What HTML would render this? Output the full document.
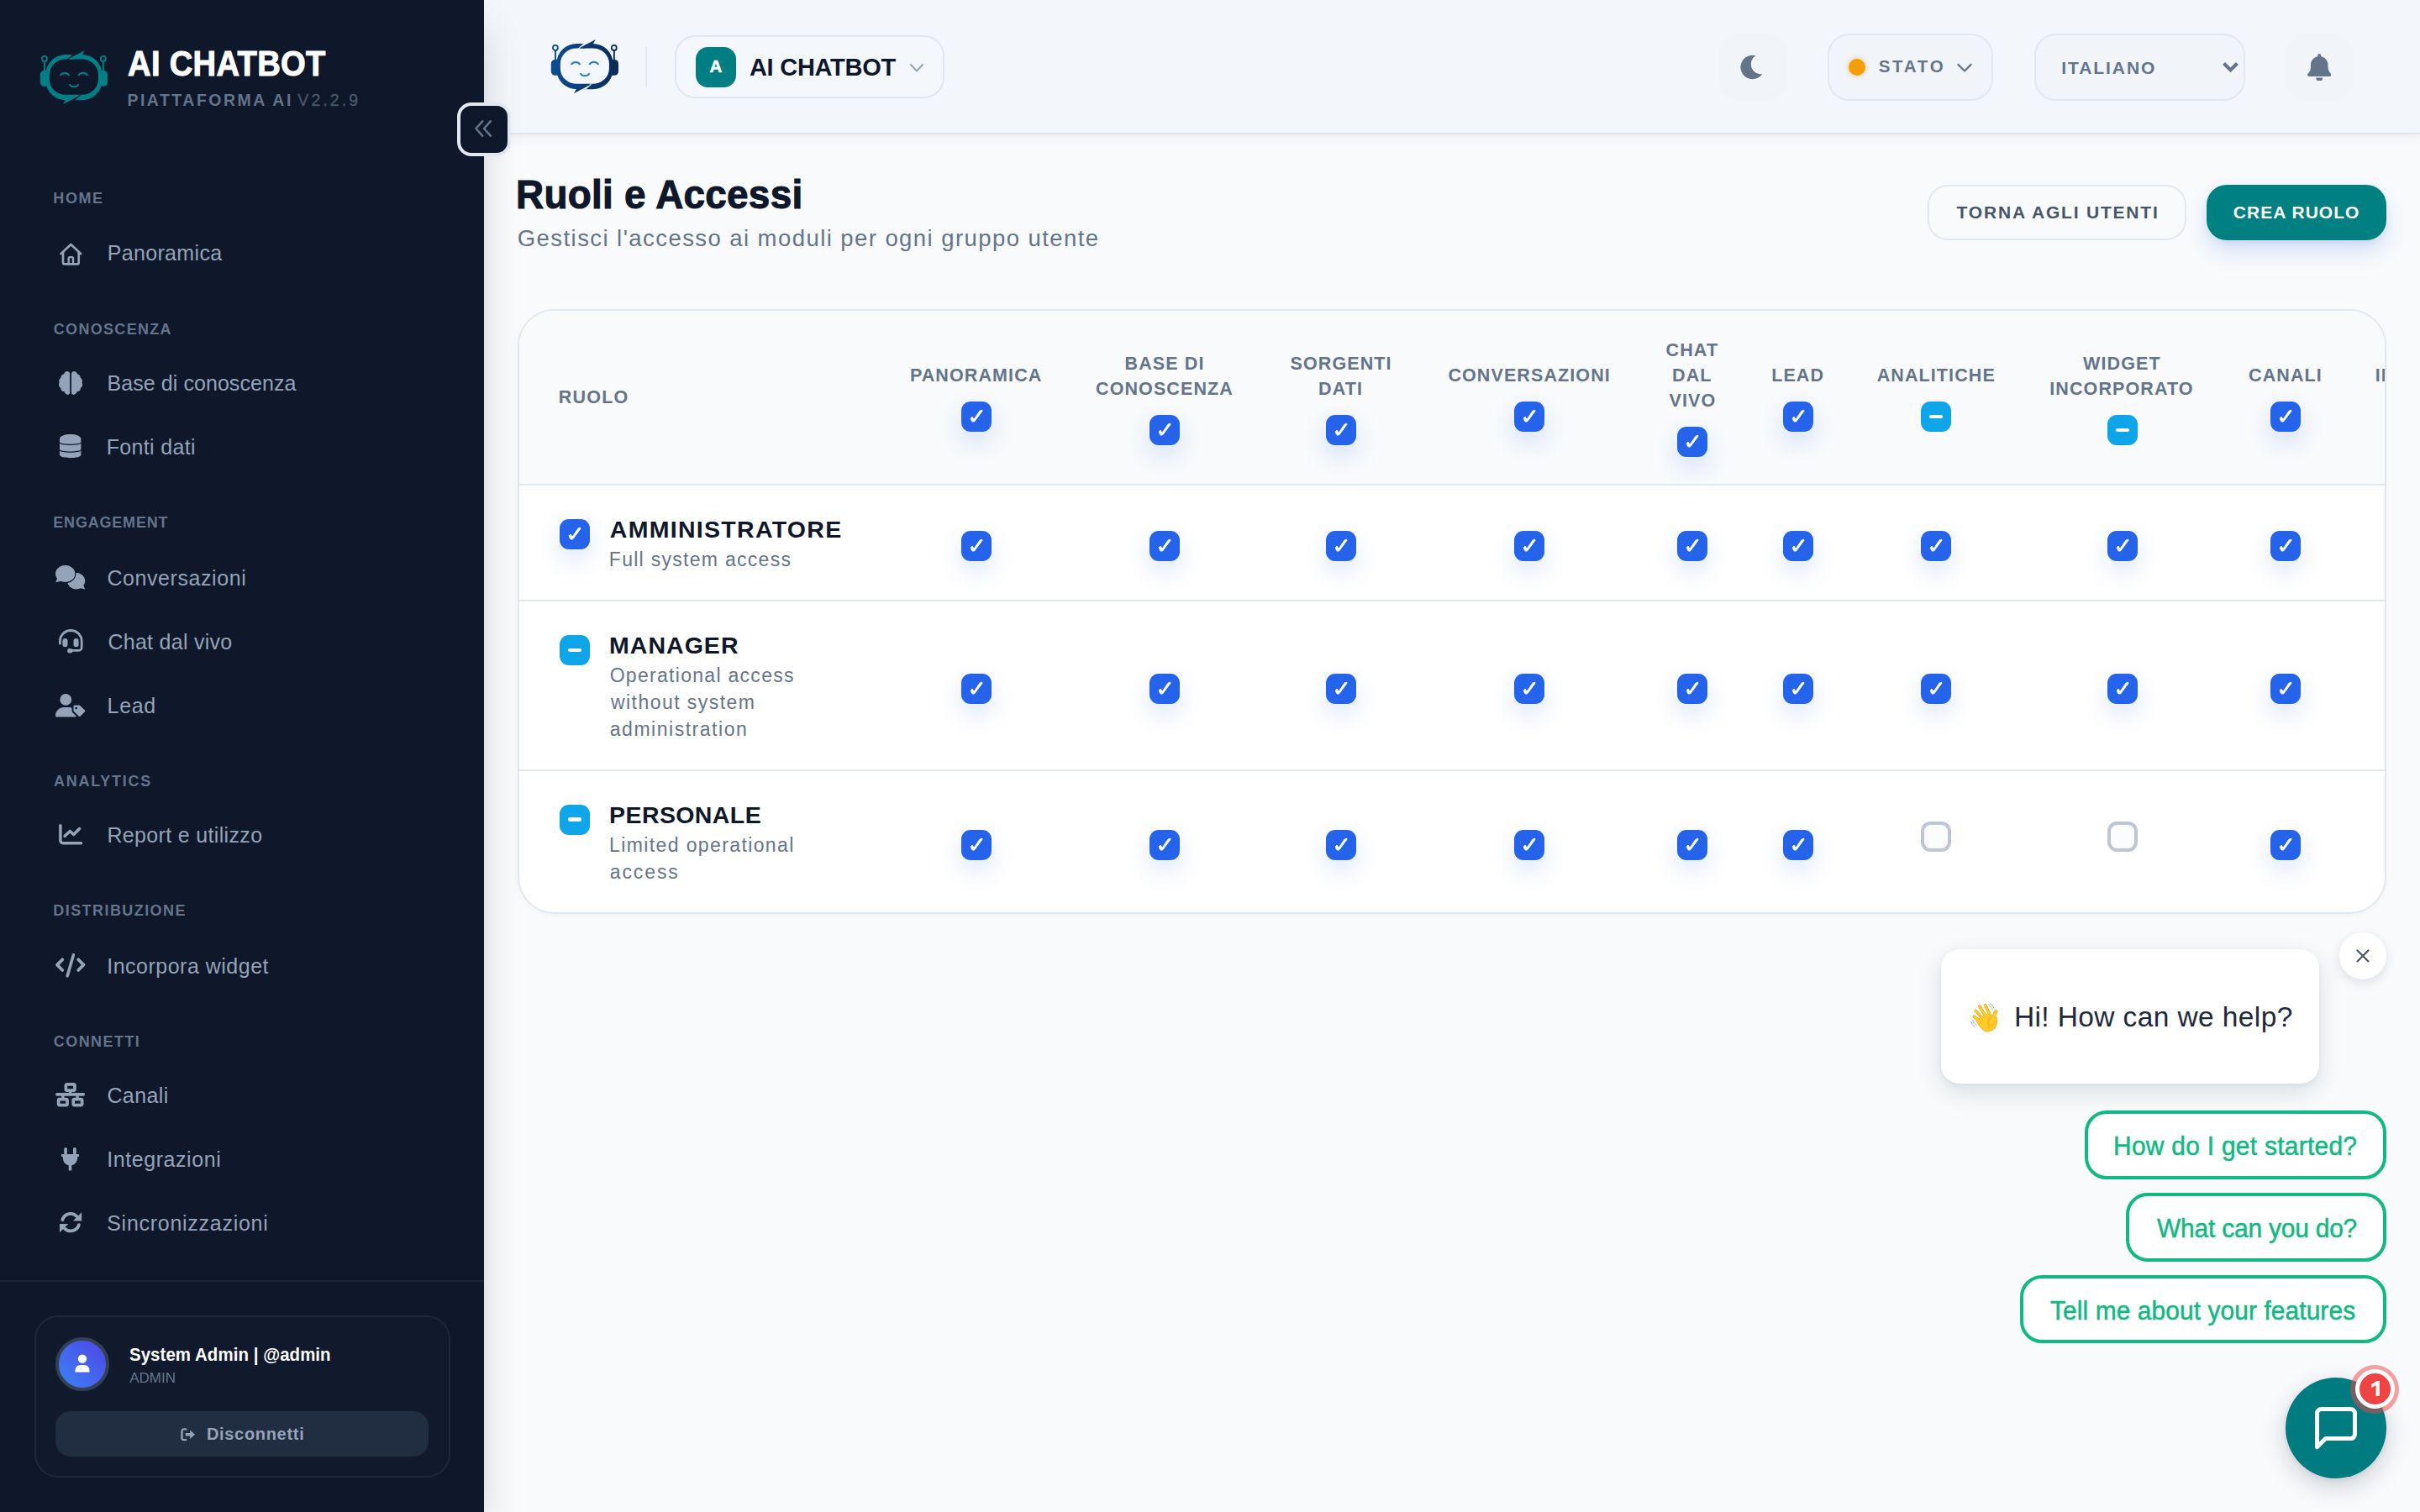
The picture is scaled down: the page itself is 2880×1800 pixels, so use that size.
<!DOCTYPE html>
<html lang="it"><head><meta charset="utf-8"><title>Ruoli e Accessi</title>
<style>
html,body{margin:0;padding:0}
body{width:2880px;height:1800px;overflow:hidden;position:relative;background:#f8fafc;font-family:"Liberation Sans",sans-serif;}
.t{position:absolute;white-space:nowrap;line-height:1;font-family:"Liberation Sans",sans-serif;}
.b{position:absolute;box-sizing:border-box;}
</style></head><body>
<div class="b" style="left:576px;top:0px;width:2304px;height:160px;background:#f3f6fb;border-bottom:2px solid #dfe5ee;box-shadow:0 5px 12px rgba(15,23,42,.05);"></div>
<svg class="b" style="left:656px;top:46.5px;overflow:visible;" width="80" height="64" viewBox="0 0 80 64" preserveAspectRatio="none"><defs><linearGradient id="lgB" gradientUnits="userSpaceOnUse" x1="0" y1="0" x2="80" y2="0"><stop offset="0" stop-color="#0b4f93"/><stop offset="1" stop-color="#0a2a58"/></linearGradient></defs>
<path fill="url(#lgB)" fill-rule="evenodd" d="M30.4 5 H49.4 A24 23 0 0 1 73.4 28 V36.2 A24 23 0 0 1 49.4 59.2 H30.4 A24 23 0 0 1 6.4 36.2 V28 A24 23 0 0 1 30.4 5 Z M30.4 10.4 A19.5 18 0 0 0 10.9 28.4 V34.8 A19.5 18 0 0 0 30.4 52.8 H49.4 A19.5 18 0 0 0 68.9 34.8 V28.4 A19.5 18 0 0 0 49.4 10.4 Z"/>
<g id="lgBh"><path d="M31.2 11.2 L38.9 4.4 L44 4.4 L33.4 10.9 Z" fill="#f3f6fb"/><path d="M42.4 5.6 L52.8 0 L49.8 5.2 L50 6 Z" fill="url(#lgB)"/><path d="M33.1 10.45 L43.3 5.1 L46 8 L40 10.45 Z" fill="url(#lgB)"/></g>
<use href="#lgBh" transform="rotate(180 39.9 32.1)"/>
<g fill="url(#lgB)"><path d="M7.5 23.9 H4.6 A4.8 4.8 0 0 0 -0.2 28.7 V38 A4.8 4.8 0 0 0 4.6 42.8 H8.5 Z"/><path d="M72.3 23.9 H75.2 A4.8 4.8 0 0 1 80 28.7 V38 A4.8 4.8 0 0 1 75.2 42.8 H71.3 Z"/>
<rect x="4" y="12.6" width="1.9" height="12"/><rect x="73.9" y="12.6" width="1.9" height="12"/></g>
<g fill="none" stroke="url(#lgB)" stroke-width="1.8"><circle cx="4.9" cy="9.9" r="3"/><circle cx="74.8" cy="9.9" r="3"/></g>
<g fill="none" stroke="#2a7ec6" stroke-width="2" stroke-linecap="butt"><path d="M23.7 30 A6.4 6.4 0 0 1 34.5 30"/><path d="M45.3 30 A6.4 6.4 0 0 1 56.3 30"/><path d="M34.5 40.2 A6.6 6.6 0 0 0 45.7 40.2"/></g></svg>
<div class="b" style="left:768px;top:56px;width:2px;height:48px;background:#e2e8f0;"></div>
<div class="b" style="left:802.7px;top:42.3px;width:321.4px;height:75px;border:2px solid #dfe6ef;border-radius:24.5px;background:#f4f7fb;"></div>
<div class="b" style="left:828px;top:56px;width:48px;height:48px;border-radius:14.5px;background:#007e81;"></div>
<div class="t" style="left:844.6px;top:68.6px;font-size:20.5px;letter-spacing:0.00px;color:#fff;font-weight:700;-webkit-text-stroke:0.6px #fff;">A</div>
<div class="t" style="left:891.9px;top:65.5px;font-size:29px;letter-spacing:-0.25px;color:#0f172a;font-weight:700;">AI CHATBOT</div>
<svg class="b" style="left:1082px;top:74px;" width="18" height="14" viewBox="0 0 18 14" preserveAspectRatio="none"><path d="M2 3 L9 10.5 L16 3" fill="none" stroke="#94a3b8" stroke-width="2.1" stroke-linecap="round" stroke-linejoin="round"/></svg>
<div class="b" style="left:2046px;top:40px;width:80px;height:80px;border-radius:24px;background:#f1f4f9;"></div>
<svg class="b" style="left:2071.9px;top:65.8px;overflow:visible;" width="25.4" height="28.4" viewBox="0 0 25.4 28.4" preserveAspectRatio="none"><path d="M17.3 0.3 A14.2 14.2 0 1 0 25.2 22.2 A11.9 11.9 0 0 1 17.3 0.3 Z" fill="#64748b"/></svg>
<div class="b" style="left:2174.5px;top:40px;width:197px;height:80px;border:2px solid #e2e8f0;border-radius:26px;background:#f1f4f9;"></div>
<div class="b" style="left:2200px;top:70px;width:20px;height:20px;border-radius:50%;background:#f59e0b;box-shadow:0 0 6px rgba(245,158,11,.55);"></div>
<div class="t" style="left:2235.7px;top:68.8px;font-size:20.5px;letter-spacing:2.72px;color:#64748b;font-weight:700;">STATO</div>
<svg class="b" style="left:2328px;top:73.5px;" width="20" height="14" viewBox="0 0 20 14" preserveAspectRatio="none"><path d="M2.5 3 L10 10.5 L17.5 3" fill="none" stroke="#64748b" stroke-width="2.4" stroke-linecap="round" stroke-linejoin="round"/></svg>
<div class="b" style="left:2420.7px;top:40px;width:251px;height:80px;border:2px solid #e2e8f0;border-radius:26px;background:#f1f4f9;"></div>
<div class="t" style="left:2453.2px;top:70.0px;font-size:21px;letter-spacing:1.94px;color:#64748b;font-weight:700;">ITALIANO</div>
<svg class="b" style="left:2644px;top:72px;" width="21" height="16" viewBox="0 0 21 16" preserveAspectRatio="none"><path d="M2.6 3.6 L10.5 11.4 L18.4 3.6" fill="none" stroke="#64748b" stroke-width="4.2" stroke-linecap="butt" stroke-linejoin="miter"/></svg>
<div class="b" style="left:2720px;top:40px;width:80px;height:80px;border-radius:24px;background:#f1f4f9;"></div>
<svg class="b" style="left:2745.8px;top:63.8px;" width="28.5" height="32.4" viewBox="0 0 30 33" preserveAspectRatio="none"><path d="M15 0 a2.2 2.2 0 0 1 2.2 2.2 v1.2 c5 1 8.6 5.2 8.6 10.4 v2 c0 3 1.1 5.8 3 7.8 l0.6 0.6 c0.6 0.6 0.7 1.4 0.4 2.1 c-0.3 0.7 -1 1.2 -1.8 1.2 H2 c-0.8 0 -1.5 -0.5 -1.8 -1.2 c-0.3 -0.7 -0.2 -1.5 0.4 -2.1 l0.6 -0.6 c1.9 -2 3 -4.8 3 -7.8 v-2 c0 -5.2 3.6 -9.4 8.6 -10.4 V2.2 A2.2 2.2 0 0 1 15 0z M19.2 29 a4.2 4.2 0 0 1 -8.4 0z" fill="#64748b"/></svg>
<div class="t" style="left:614.2px;top:207.8px;font-size:48px;letter-spacing:0.30px;color:#0f172a;font-weight:700;-webkit-text-stroke:1.1px #0f172a;transform:scaleX(0.955);transform-origin:0 0;">Ruoli e Accessi</div>
<div class="t" style="left:615.8px;top:269.9px;font-size:27.5px;letter-spacing:1.43px;color:#64748b;">Gestisci l'accesso ai moduli per ogni gruppo utente</div>
<div class="b" style="left:2294.4px;top:220.2px;width:307.4px;height:65.6px;border:2px solid #e2e8f0;border-radius:24px;background:#f8fafc;"></div>
<div class="t" style="left:2328.6px;top:242.4px;font-size:21px;letter-spacing:1.80px;color:#475569;font-weight:700;">TORNA AGLI UTENTI</div>
<div class="b" style="left:2626px;top:220px;width:214.2px;height:65.6px;border-radius:24px;background:#008080;box-shadow:0 14px 26px rgba(37,99,235,.16),0 4px 8px rgba(15,23,42,.06);"></div>
<div class="t" style="left:2657.8px;top:242.4px;font-size:21px;letter-spacing:1.02px;color:#fff;font-weight:700;">CREA RUOLO</div>
<div class="b" style="left:616px;top:368px;width:2224px;height:720px;border:2px solid #e2e8f0;border-radius:44px;background:#fff;overflow:hidden;box-shadow:0 2px 6px rgba(15,23,42,.03);">
<div class="b" style="left:0;top:0;width:2300px;height:208px;background:#f8fafc;border-bottom:2px solid #e2e8f0;"></div>
<div class="b" style="left:0;top:344px;width:2300px;height:2px;background:#e2e8f0;"></div>
<div class="b" style="left:0;top:546px;width:2300px;height:2px;background:#e2e8f0;"></div>
</div>
<div class="t" style="left:664.7px;top:463.3px;font-size:21.5px;letter-spacing:1.23px;color:#64748b;font-weight:700;">RUOLO</div>
<div class="t" style="left:1082.9px;top:436.8px;font-size:21.5px;letter-spacing:1.10px;color:#64748b;font-weight:700;">PANORAMICA</div>
<div class="t" style="left:1338.6px;top:423.4px;font-size:21.5px;letter-spacing:1.10px;color:#64748b;font-weight:700;">BASE DI</div>
<div class="t" style="left:1304.0px;top:453.4px;font-size:21.5px;letter-spacing:1.10px;color:#64748b;font-weight:700;">CONOSCENZA</div>
<div class="t" style="left:1535.5px;top:423.4px;font-size:21.5px;letter-spacing:1.10px;color:#64748b;font-weight:700;">SORGENTI</div>
<div class="t" style="left:1569.1px;top:453.4px;font-size:21.5px;letter-spacing:1.10px;color:#64748b;font-weight:700;">DATI</div>
<div class="t" style="left:1723.4px;top:436.8px;font-size:21.5px;letter-spacing:1.10px;color:#64748b;font-weight:700;">CONVERSAZIONI</div>
<div class="t" style="left:1982.6px;top:407.0px;font-size:21.5px;letter-spacing:1.10px;color:#64748b;font-weight:700;">CHAT</div>
<div class="t" style="left:1990.0px;top:437.0px;font-size:21.5px;letter-spacing:1.10px;color:#64748b;font-weight:700;">DAL</div>
<div class="t" style="left:1986.6px;top:467.0px;font-size:21.5px;letter-spacing:1.10px;color:#64748b;font-weight:700;">VIVO</div>
<div class="t" style="left:2108.2px;top:436.8px;font-size:21.5px;letter-spacing:1.10px;color:#64748b;font-weight:700;">LEAD</div>
<div class="t" style="left:2233.7px;top:436.8px;font-size:21.5px;letter-spacing:1.10px;color:#64748b;font-weight:700;">ANALITICHE</div>
<div class="t" style="left:2479.1px;top:423.4px;font-size:21.5px;letter-spacing:1.10px;color:#64748b;font-weight:700;">WIDGET</div>
<div class="t" style="left:2439.3px;top:453.4px;font-size:21.5px;letter-spacing:1.10px;color:#64748b;font-weight:700;">INCORPORATO</div>
<div class="t" style="left:2676.0px;top:436.8px;font-size:21.5px;letter-spacing:1.10px;color:#64748b;font-weight:700;">CANALI</div>
<div class="b" style="left:2800px;top:420px;width:38px;height:60px;overflow:hidden;"><div class="t" style="left:26.7px;top:16.8px;font-size:21.5px;letter-spacing:1.10px;color:#64748b;font-weight:700;">INTEGRAZIONI</div>
</div>
<div class="b" style="left:1144.05px;top:477.9px;width:36px;height:36px;border-radius:11px;background:#2563eb;box-shadow:0 12px 28px rgba(37,99,235,.17);"><svg width="36" height="36" viewBox="0 0 36 36" style="position:absolute;left:0;top:0"><path d="M11.2 19.8 L13 18 L15.1 21.2 L21.9 11.2 L24.5 10 L25.1 11.2 L15.8 23.8 L13.8 24.2 L12.4 23.2 Z" fill="#fff" stroke="#fff" stroke-width="0.8" stroke-linejoin="round"/></svg></div>
<div class="b" style="left:1368.1px;top:494.2px;width:36px;height:36px;border-radius:11px;background:#2563eb;box-shadow:0 12px 28px rgba(37,99,235,.17);"><svg width="36" height="36" viewBox="0 0 36 36" style="position:absolute;left:0;top:0"><path d="M11.2 19.8 L13 18 L15.1 21.2 L21.9 11.2 L24.5 10 L25.1 11.2 L15.8 23.8 L13.8 24.2 L12.4 23.2 Z" fill="#fff" stroke="#fff" stroke-width="0.8" stroke-linejoin="round"/></svg></div>
<div class="b" style="left:1577.8px;top:494.2px;width:36px;height:36px;border-radius:11px;background:#2563eb;box-shadow:0 12px 28px rgba(37,99,235,.17);"><svg width="36" height="36" viewBox="0 0 36 36" style="position:absolute;left:0;top:0"><path d="M11.2 19.8 L13 18 L15.1 21.2 L21.9 11.2 L24.5 10 L25.1 11.2 L15.8 23.8 L13.8 24.2 L12.4 23.2 Z" fill="#fff" stroke="#fff" stroke-width="0.8" stroke-linejoin="round"/></svg></div>
<div class="b" style="left:1802px;top:477.9px;width:36px;height:36px;border-radius:11px;background:#2563eb;box-shadow:0 12px 28px rgba(37,99,235,.17);"><svg width="36" height="36" viewBox="0 0 36 36" style="position:absolute;left:0;top:0"><path d="M11.2 19.8 L13 18 L15.1 21.2 L21.9 11.2 L24.5 10 L25.1 11.2 L15.8 23.8 L13.8 24.2 L12.4 23.2 Z" fill="#fff" stroke="#fff" stroke-width="0.8" stroke-linejoin="round"/></svg></div>
<div class="b" style="left:1996.1px;top:508px;width:36px;height:36px;border-radius:11px;background:#2563eb;box-shadow:0 12px 28px rgba(37,99,235,.17);"><svg width="36" height="36" viewBox="0 0 36 36" style="position:absolute;left:0;top:0"><path d="M11.2 19.8 L13 18 L15.1 21.2 L21.9 11.2 L24.5 10 L25.1 11.2 L15.8 23.8 L13.8 24.2 L12.4 23.2 Z" fill="#fff" stroke="#fff" stroke-width="0.8" stroke-linejoin="round"/></svg></div>
<div class="b" style="left:2121.95px;top:477.9px;width:36px;height:36px;border-radius:11px;background:#2563eb;box-shadow:0 12px 28px rgba(37,99,235,.17);"><svg width="36" height="36" viewBox="0 0 36 36" style="position:absolute;left:0;top:0"><path d="M11.2 19.8 L13 18 L15.1 21.2 L21.9 11.2 L24.5 10 L25.1 11.2 L15.8 23.8 L13.8 24.2 L12.4 23.2 Z" fill="#fff" stroke="#fff" stroke-width="0.8" stroke-linejoin="round"/></svg></div>
<div class="b" style="left:2286.1px;top:477.9px;width:36px;height:36px;border-radius:11px;background:#0ea5e9;"><div style="position:absolute;left:10px;top:15.7px;width:16px;height:4.6px;border-radius:2.3px;background:#fff"></div></div>
<div class="b" style="left:2507.9px;top:494.2px;width:36px;height:36px;border-radius:11px;background:#0ea5e9;"><div style="position:absolute;left:10px;top:15.7px;width:16px;height:4.6px;border-radius:2.3px;background:#fff"></div></div>
<div class="b" style="left:2701.8px;top:477.9px;width:36px;height:36px;border-radius:11px;background:#2563eb;box-shadow:0 12px 28px rgba(37,99,235,.17);"><svg width="36" height="36" viewBox="0 0 36 36" style="position:absolute;left:0;top:0"><path d="M11.2 19.8 L13 18 L15.1 21.2 L21.9 11.2 L24.5 10 L25.1 11.2 L15.8 23.8 L13.8 24.2 L12.4 23.2 Z" fill="#fff" stroke="#fff" stroke-width="0.8" stroke-linejoin="round"/></svg></div>
<div class="b" style="left:1144.05px;top:631.9px;width:36px;height:36px;border-radius:11px;background:#2563eb;box-shadow:0 12px 28px rgba(37,99,235,.17);"><svg width="36" height="36" viewBox="0 0 36 36" style="position:absolute;left:0;top:0"><path d="M11.2 19.8 L13 18 L15.1 21.2 L21.9 11.2 L24.5 10 L25.1 11.2 L15.8 23.8 L13.8 24.2 L12.4 23.2 Z" fill="#fff" stroke="#fff" stroke-width="0.8" stroke-linejoin="round"/></svg></div>
<div class="b" style="left:1368.1px;top:631.9px;width:36px;height:36px;border-radius:11px;background:#2563eb;box-shadow:0 12px 28px rgba(37,99,235,.17);"><svg width="36" height="36" viewBox="0 0 36 36" style="position:absolute;left:0;top:0"><path d="M11.2 19.8 L13 18 L15.1 21.2 L21.9 11.2 L24.5 10 L25.1 11.2 L15.8 23.8 L13.8 24.2 L12.4 23.2 Z" fill="#fff" stroke="#fff" stroke-width="0.8" stroke-linejoin="round"/></svg></div>
<div class="b" style="left:1577.8px;top:631.9px;width:36px;height:36px;border-radius:11px;background:#2563eb;box-shadow:0 12px 28px rgba(37,99,235,.17);"><svg width="36" height="36" viewBox="0 0 36 36" style="position:absolute;left:0;top:0"><path d="M11.2 19.8 L13 18 L15.1 21.2 L21.9 11.2 L24.5 10 L25.1 11.2 L15.8 23.8 L13.8 24.2 L12.4 23.2 Z" fill="#fff" stroke="#fff" stroke-width="0.8" stroke-linejoin="round"/></svg></div>
<div class="b" style="left:1802px;top:631.9px;width:36px;height:36px;border-radius:11px;background:#2563eb;box-shadow:0 12px 28px rgba(37,99,235,.17);"><svg width="36" height="36" viewBox="0 0 36 36" style="position:absolute;left:0;top:0"><path d="M11.2 19.8 L13 18 L15.1 21.2 L21.9 11.2 L24.5 10 L25.1 11.2 L15.8 23.8 L13.8 24.2 L12.4 23.2 Z" fill="#fff" stroke="#fff" stroke-width="0.8" stroke-linejoin="round"/></svg></div>
<div class="b" style="left:1996.1px;top:631.9px;width:36px;height:36px;border-radius:11px;background:#2563eb;box-shadow:0 12px 28px rgba(37,99,235,.17);"><svg width="36" height="36" viewBox="0 0 36 36" style="position:absolute;left:0;top:0"><path d="M11.2 19.8 L13 18 L15.1 21.2 L21.9 11.2 L24.5 10 L25.1 11.2 L15.8 23.8 L13.8 24.2 L12.4 23.2 Z" fill="#fff" stroke="#fff" stroke-width="0.8" stroke-linejoin="round"/></svg></div>
<div class="b" style="left:2121.95px;top:631.9px;width:36px;height:36px;border-radius:11px;background:#2563eb;box-shadow:0 12px 28px rgba(37,99,235,.17);"><svg width="36" height="36" viewBox="0 0 36 36" style="position:absolute;left:0;top:0"><path d="M11.2 19.8 L13 18 L15.1 21.2 L21.9 11.2 L24.5 10 L25.1 11.2 L15.8 23.8 L13.8 24.2 L12.4 23.2 Z" fill="#fff" stroke="#fff" stroke-width="0.8" stroke-linejoin="round"/></svg></div>
<div class="b" style="left:2286.1px;top:631.9px;width:36px;height:36px;border-radius:11px;background:#2563eb;box-shadow:0 12px 28px rgba(37,99,235,.17);"><svg width="36" height="36" viewBox="0 0 36 36" style="position:absolute;left:0;top:0"><path d="M11.2 19.8 L13 18 L15.1 21.2 L21.9 11.2 L24.5 10 L25.1 11.2 L15.8 23.8 L13.8 24.2 L12.4 23.2 Z" fill="#fff" stroke="#fff" stroke-width="0.8" stroke-linejoin="round"/></svg></div>
<div class="b" style="left:2507.9px;top:631.9px;width:36px;height:36px;border-radius:11px;background:#2563eb;box-shadow:0 12px 28px rgba(37,99,235,.17);"><svg width="36" height="36" viewBox="0 0 36 36" style="position:absolute;left:0;top:0"><path d="M11.2 19.8 L13 18 L15.1 21.2 L21.9 11.2 L24.5 10 L25.1 11.2 L15.8 23.8 L13.8 24.2 L12.4 23.2 Z" fill="#fff" stroke="#fff" stroke-width="0.8" stroke-linejoin="round"/></svg></div>
<div class="b" style="left:2701.8px;top:631.9px;width:36px;height:36px;border-radius:11px;background:#2563eb;box-shadow:0 12px 28px rgba(37,99,235,.17);"><svg width="36" height="36" viewBox="0 0 36 36" style="position:absolute;left:0;top:0"><path d="M11.2 19.8 L13 18 L15.1 21.2 L21.9 11.2 L24.5 10 L25.1 11.2 L15.8 23.8 L13.8 24.2 L12.4 23.2 Z" fill="#fff" stroke="#fff" stroke-width="0.8" stroke-linejoin="round"/></svg></div>
<div class="b" style="left:1144.05px;top:802.1px;width:36px;height:36px;border-radius:11px;background:#2563eb;box-shadow:0 12px 28px rgba(37,99,235,.17);"><svg width="36" height="36" viewBox="0 0 36 36" style="position:absolute;left:0;top:0"><path d="M11.2 19.8 L13 18 L15.1 21.2 L21.9 11.2 L24.5 10 L25.1 11.2 L15.8 23.8 L13.8 24.2 L12.4 23.2 Z" fill="#fff" stroke="#fff" stroke-width="0.8" stroke-linejoin="round"/></svg></div>
<div class="b" style="left:1368.1px;top:802.1px;width:36px;height:36px;border-radius:11px;background:#2563eb;box-shadow:0 12px 28px rgba(37,99,235,.17);"><svg width="36" height="36" viewBox="0 0 36 36" style="position:absolute;left:0;top:0"><path d="M11.2 19.8 L13 18 L15.1 21.2 L21.9 11.2 L24.5 10 L25.1 11.2 L15.8 23.8 L13.8 24.2 L12.4 23.2 Z" fill="#fff" stroke="#fff" stroke-width="0.8" stroke-linejoin="round"/></svg></div>
<div class="b" style="left:1577.8px;top:802.1px;width:36px;height:36px;border-radius:11px;background:#2563eb;box-shadow:0 12px 28px rgba(37,99,235,.17);"><svg width="36" height="36" viewBox="0 0 36 36" style="position:absolute;left:0;top:0"><path d="M11.2 19.8 L13 18 L15.1 21.2 L21.9 11.2 L24.5 10 L25.1 11.2 L15.8 23.8 L13.8 24.2 L12.4 23.2 Z" fill="#fff" stroke="#fff" stroke-width="0.8" stroke-linejoin="round"/></svg></div>
<div class="b" style="left:1802px;top:802.1px;width:36px;height:36px;border-radius:11px;background:#2563eb;box-shadow:0 12px 28px rgba(37,99,235,.17);"><svg width="36" height="36" viewBox="0 0 36 36" style="position:absolute;left:0;top:0"><path d="M11.2 19.8 L13 18 L15.1 21.2 L21.9 11.2 L24.5 10 L25.1 11.2 L15.8 23.8 L13.8 24.2 L12.4 23.2 Z" fill="#fff" stroke="#fff" stroke-width="0.8" stroke-linejoin="round"/></svg></div>
<div class="b" style="left:1996.1px;top:802.1px;width:36px;height:36px;border-radius:11px;background:#2563eb;box-shadow:0 12px 28px rgba(37,99,235,.17);"><svg width="36" height="36" viewBox="0 0 36 36" style="position:absolute;left:0;top:0"><path d="M11.2 19.8 L13 18 L15.1 21.2 L21.9 11.2 L24.5 10 L25.1 11.2 L15.8 23.8 L13.8 24.2 L12.4 23.2 Z" fill="#fff" stroke="#fff" stroke-width="0.8" stroke-linejoin="round"/></svg></div>
<div class="b" style="left:2121.95px;top:802.1px;width:36px;height:36px;border-radius:11px;background:#2563eb;box-shadow:0 12px 28px rgba(37,99,235,.17);"><svg width="36" height="36" viewBox="0 0 36 36" style="position:absolute;left:0;top:0"><path d="M11.2 19.8 L13 18 L15.1 21.2 L21.9 11.2 L24.5 10 L25.1 11.2 L15.8 23.8 L13.8 24.2 L12.4 23.2 Z" fill="#fff" stroke="#fff" stroke-width="0.8" stroke-linejoin="round"/></svg></div>
<div class="b" style="left:2286.1px;top:802.1px;width:36px;height:36px;border-radius:11px;background:#2563eb;box-shadow:0 12px 28px rgba(37,99,235,.17);"><svg width="36" height="36" viewBox="0 0 36 36" style="position:absolute;left:0;top:0"><path d="M11.2 19.8 L13 18 L15.1 21.2 L21.9 11.2 L24.5 10 L25.1 11.2 L15.8 23.8 L13.8 24.2 L12.4 23.2 Z" fill="#fff" stroke="#fff" stroke-width="0.8" stroke-linejoin="round"/></svg></div>
<div class="b" style="left:2507.9px;top:802.1px;width:36px;height:36px;border-radius:11px;background:#2563eb;box-shadow:0 12px 28px rgba(37,99,235,.17);"><svg width="36" height="36" viewBox="0 0 36 36" style="position:absolute;left:0;top:0"><path d="M11.2 19.8 L13 18 L15.1 21.2 L21.9 11.2 L24.5 10 L25.1 11.2 L15.8 23.8 L13.8 24.2 L12.4 23.2 Z" fill="#fff" stroke="#fff" stroke-width="0.8" stroke-linejoin="round"/></svg></div>
<div class="b" style="left:2701.8px;top:802.1px;width:36px;height:36px;border-radius:11px;background:#2563eb;box-shadow:0 12px 28px rgba(37,99,235,.17);"><svg width="36" height="36" viewBox="0 0 36 36" style="position:absolute;left:0;top:0"><path d="M11.2 19.8 L13 18 L15.1 21.2 L21.9 11.2 L24.5 10 L25.1 11.2 L15.8 23.8 L13.8 24.2 L12.4 23.2 Z" fill="#fff" stroke="#fff" stroke-width="0.8" stroke-linejoin="round"/></svg></div>
<div class="b" style="left:1144.05px;top:988.1px;width:36px;height:36px;border-radius:11px;background:#2563eb;box-shadow:0 12px 28px rgba(37,99,235,.17);"><svg width="36" height="36" viewBox="0 0 36 36" style="position:absolute;left:0;top:0"><path d="M11.2 19.8 L13 18 L15.1 21.2 L21.9 11.2 L24.5 10 L25.1 11.2 L15.8 23.8 L13.8 24.2 L12.4 23.2 Z" fill="#fff" stroke="#fff" stroke-width="0.8" stroke-linejoin="round"/></svg></div>
<div class="b" style="left:1368.1px;top:988.1px;width:36px;height:36px;border-radius:11px;background:#2563eb;box-shadow:0 12px 28px rgba(37,99,235,.17);"><svg width="36" height="36" viewBox="0 0 36 36" style="position:absolute;left:0;top:0"><path d="M11.2 19.8 L13 18 L15.1 21.2 L21.9 11.2 L24.5 10 L25.1 11.2 L15.8 23.8 L13.8 24.2 L12.4 23.2 Z" fill="#fff" stroke="#fff" stroke-width="0.8" stroke-linejoin="round"/></svg></div>
<div class="b" style="left:1577.8px;top:988.1px;width:36px;height:36px;border-radius:11px;background:#2563eb;box-shadow:0 12px 28px rgba(37,99,235,.17);"><svg width="36" height="36" viewBox="0 0 36 36" style="position:absolute;left:0;top:0"><path d="M11.2 19.8 L13 18 L15.1 21.2 L21.9 11.2 L24.5 10 L25.1 11.2 L15.8 23.8 L13.8 24.2 L12.4 23.2 Z" fill="#fff" stroke="#fff" stroke-width="0.8" stroke-linejoin="round"/></svg></div>
<div class="b" style="left:1802px;top:988.1px;width:36px;height:36px;border-radius:11px;background:#2563eb;box-shadow:0 12px 28px rgba(37,99,235,.17);"><svg width="36" height="36" viewBox="0 0 36 36" style="position:absolute;left:0;top:0"><path d="M11.2 19.8 L13 18 L15.1 21.2 L21.9 11.2 L24.5 10 L25.1 11.2 L15.8 23.8 L13.8 24.2 L12.4 23.2 Z" fill="#fff" stroke="#fff" stroke-width="0.8" stroke-linejoin="round"/></svg></div>
<div class="b" style="left:1996.1px;top:988.1px;width:36px;height:36px;border-radius:11px;background:#2563eb;box-shadow:0 12px 28px rgba(37,99,235,.17);"><svg width="36" height="36" viewBox="0 0 36 36" style="position:absolute;left:0;top:0"><path d="M11.2 19.8 L13 18 L15.1 21.2 L21.9 11.2 L24.5 10 L25.1 11.2 L15.8 23.8 L13.8 24.2 L12.4 23.2 Z" fill="#fff" stroke="#fff" stroke-width="0.8" stroke-linejoin="round"/></svg></div>
<div class="b" style="left:2121.95px;top:988.1px;width:36px;height:36px;border-radius:11px;background:#2563eb;box-shadow:0 12px 28px rgba(37,99,235,.17);"><svg width="36" height="36" viewBox="0 0 36 36" style="position:absolute;left:0;top:0"><path d="M11.2 19.8 L13 18 L15.1 21.2 L21.9 11.2 L24.5 10 L25.1 11.2 L15.8 23.8 L13.8 24.2 L12.4 23.2 Z" fill="#fff" stroke="#fff" stroke-width="0.8" stroke-linejoin="round"/></svg></div>
<div class="b" style="left:2285.9px;top:977.9px;width:36px;height:36px;border-radius:11.5px;background:#fbfcfe;border:4px solid #bcc6d4;"></div>
<div class="b" style="left:2507.7px;top:977.9px;width:36px;height:36px;border-radius:11.5px;background:#fbfcfe;border:4px solid #bcc6d4;"></div>
<div class="b" style="left:2701.8px;top:988.1px;width:36px;height:36px;border-radius:11px;background:#2563eb;box-shadow:0 12px 28px rgba(37,99,235,.17);"><svg width="36" height="36" viewBox="0 0 36 36" style="position:absolute;left:0;top:0"><path d="M11.2 19.8 L13 18 L15.1 21.2 L21.9 11.2 L24.5 10 L25.1 11.2 L15.8 23.8 L13.8 24.2 L12.4 23.2 Z" fill="#fff" stroke="#fff" stroke-width="0.8" stroke-linejoin="round"/></svg></div>
<div class="b" style="left:665.9px;top:617.8px;width:36px;height:36px;border-radius:11px;background:#2563eb;box-shadow:0 12px 28px rgba(37,99,235,.17);"><svg width="36" height="36" viewBox="0 0 36 36" style="position:absolute;left:0;top:0"><path d="M11.2 19.8 L13 18 L15.1 21.2 L21.9 11.2 L24.5 10 L25.1 11.2 L15.8 23.8 L13.8 24.2 L12.4 23.2 Z" fill="#fff" stroke="#fff" stroke-width="0.8" stroke-linejoin="round"/></svg></div>
<div class="t" style="left:725.8px;top:616.1px;font-size:28.5px;letter-spacing:1.29px;color:#0f172a;font-weight:700;">AMMINISTRATORE</div>
<div class="t" style="left:724.8px;top:654.7px;font-size:23px;letter-spacing:1.29px;color:#64748b;">Full system access</div>
<div class="b" style="left:666.1px;top:756.1px;width:36px;height:36px;border-radius:11px;background:#0ea5e9;"><div style="position:absolute;left:10px;top:15.7px;width:16px;height:4.6px;border-radius:2.3px;background:#fff"></div></div>
<div class="t" style="left:725.1px;top:754.4px;font-size:28.5px;letter-spacing:1.02px;color:#0f172a;font-weight:700;">MANAGER</div>
<div class="t" style="left:725.7px;top:792.6px;font-size:23px;letter-spacing:1.29px;color:#64748b;">Operational access</div>
<div class="t" style="left:726.9px;top:824.5px;font-size:23px;letter-spacing:1.46px;color:#64748b;">without system</div>
<div class="t" style="left:725.8px;top:856.5px;font-size:23px;letter-spacing:1.52px;color:#64748b;">administration</div>
<div class="b" style="left:666.1px;top:957.8px;width:36px;height:36px;border-radius:11px;background:#0ea5e9;"><div style="position:absolute;left:10px;top:15.7px;width:16px;height:4.6px;border-radius:2.3px;background:#fff"></div></div>
<div class="t" style="left:725.1px;top:956.1px;font-size:28.5px;letter-spacing:0.40px;color:#0f172a;font-weight:700;">PERSONALE</div>
<div class="t" style="left:725.1px;top:994.8px;font-size:23px;letter-spacing:1.38px;color:#64748b;">Limited operational</div>
<div class="t" style="left:725.8px;top:1026.8px;font-size:23px;letter-spacing:1.89px;color:#64748b;">access</div>
<div class="b" style="left:0px;top:0px;width:576px;height:1800px;background:#0f172a;box-shadow:0 25px 50px -12px rgba(0,0,0,.25);"></div>
<svg class="b" style="left:48px;top:60px;overflow:visible;" width="80" height="64" viewBox="0 0 80 64" preserveAspectRatio="none"><defs><linearGradient id="lgA" gradientUnits="userSpaceOnUse" x1="0" y1="0" x2="80" y2="0"><stop offset="0" stop-color="#008086"/><stop offset="1" stop-color="#008086"/></linearGradient></defs>
<path fill="url(#lgA)" fill-rule="evenodd" d="M30.4 5 H49.4 A24 23 0 0 1 73.4 28 V36.2 A24 23 0 0 1 49.4 59.2 H30.4 A24 23 0 0 1 6.4 36.2 V28 A24 23 0 0 1 30.4 5 Z M30.4 10.4 A19.5 18 0 0 0 10.9 28.4 V34.8 A19.5 18 0 0 0 30.4 52.8 H49.4 A19.5 18 0 0 0 68.9 34.8 V28.4 A19.5 18 0 0 0 49.4 10.4 Z"/>
<g id="lgAh"><path d="M31.2 11.2 L38.9 4.4 L44 4.4 L33.4 10.9 Z" fill="#0f172a"/><path d="M42.4 5.6 L52.8 0 L49.8 5.2 L50 6 Z" fill="url(#lgA)"/><path d="M33.1 10.45 L43.3 5.1 L46 8 L40 10.45 Z" fill="url(#lgA)"/></g>
<use href="#lgAh" transform="rotate(180 39.9 32.1)"/>
<g fill="url(#lgA)"><path d="M7.5 23.9 H4.6 A4.8 4.8 0 0 0 -0.2 28.7 V38 A4.8 4.8 0 0 0 4.6 42.8 H8.5 Z"/><path d="M72.3 23.9 H75.2 A4.8 4.8 0 0 1 80 28.7 V38 A4.8 4.8 0 0 1 75.2 42.8 H71.3 Z"/>
<rect x="4" y="12.6" width="1.9" height="12"/><rect x="73.9" y="12.6" width="1.9" height="12"/></g>
<g fill="none" stroke="url(#lgA)" stroke-width="1.8"><circle cx="4.9" cy="9.9" r="3"/><circle cx="74.8" cy="9.9" r="3"/></g>
<g fill="none" stroke="#008086" stroke-width="2" stroke-linecap="butt"><path d="M23.7 30 A6.4 6.4 0 0 1 34.5 30"/><path d="M45.3 30 A6.4 6.4 0 0 1 56.3 30"/><path d="M34.5 40.2 A6.6 6.6 0 0 0 45.7 40.2"/></g></svg>
<div class="t" style="left:151.5px;top:54.7px;font-size:42px;letter-spacing:0.32px;color:#fff;font-weight:700;-webkit-text-stroke:1.0px #fff;transform:scaleX(0.91);transform-origin:0 0;">AI CHATBOT</div>
<div class="t" style="left:151.4px;top:110.0px;font-size:19.5px;letter-spacing:2.50px;color:#64748b;font-weight:700;">PIATTAFORMA AI</div>
<div class="t" style="left:354.3px;top:110.0px;font-size:19.5px;letter-spacing:3.08px;color:#475569;-webkit-text-stroke:0.4px #475569;">V2.2.9</div>
<div class="t" style="left:63.3px;top:226.8px;font-size:18px;letter-spacing:1.60px;color:#64748b;font-weight:700;">HOME</div>
<div class="t" style="left:63.8px;top:383.1px;font-size:18px;letter-spacing:1.31px;color:#64748b;font-weight:700;">CONOSCENZA</div>
<div class="t" style="left:63.3px;top:613.1px;font-size:18px;letter-spacing:0.80px;color:#64748b;font-weight:700;">ENGAGEMENT</div>
<div class="t" style="left:64.0px;top:921.4px;font-size:18px;letter-spacing:1.74px;color:#64748b;font-weight:700;">ANALYTICS</div>
<div class="t" style="left:63.3px;top:1075.2px;font-size:18px;letter-spacing:1.43px;color:#64748b;font-weight:700;">DISTRIBUZIONE</div>
<div class="t" style="left:63.8px;top:1231.1px;font-size:18px;letter-spacing:1.43px;color:#64748b;font-weight:700;">CONNETTI</div>
<div class="t" style="left:127.7px;top:288.9px;font-size:25px;letter-spacing:0.34px;color:#94a3b8;">Panoramica</div>
<svg class="b" style="left:70.65px;top:288.6px;overflow:visible;" width="26.7" height="26.7" viewBox="0 0 26.7 26.7" preserveAspectRatio="none"><g fill="none" stroke="#94a3b8" stroke-linecap="round" stroke-linejoin="round"><path d="M1.6 13 L13.35 1.9 L25.1 13" stroke-width="2.7"/><path d="M4 11.5 V23.4 a1.9 1.9 0 0 0 1.9 1.9 H20.8 a1.9 1.9 0 0 0 1.9 -1.9 V11.5" stroke-width="2.7"/><path d="M10.7 25 V18.4 a1.3 1.3 0 0 1 1.3 -1.3 h2.7 a1.3 1.3 0 0 1 1.3 1.3 V25" stroke-width="2.4"/></g></svg>
<div class="t" style="left:127.6px;top:443.8px;font-size:25px;letter-spacing:0.06px;color:#94a3b8;">Base di conoscenza</div>
<svg class="b" style="left:69.8px;top:441.9px;overflow:visible;" width="28.2" height="28.1" viewBox="0 0 28.2 28.1" preserveAspectRatio="none"><path d="M13.2 3.2 C13.2 1.4 11.8 0 10 0 C8 0 6.4 1.4 6.2 3.2 C3.9 3.4 2.3 5.3 2.6 7.6 C0.6 8.8 -0.4 11.4 0.6 13.6 C-0.6 15.6 0 18.6 2.2 19.8 C2 22.4 4 24.4 6.4 24 C7 26.6 9.6 28.4 11.6 27.8 C12.6 27.5 13.2 26.6 13.2 25.6 Z" fill="#94a3b8"/><path d="M13.2 3.2 C13.2 1.4 11.8 0 10 0 C8 0 6.4 1.4 6.2 3.2 C3.9 3.4 2.3 5.3 2.6 7.6 C0.6 8.8 -0.4 11.4 0.6 13.6 C-0.6 15.6 0 18.6 2.2 19.8 C2 22.4 4 24.4 6.4 24 C7 26.6 9.6 28.4 11.6 27.8 C12.6 27.5 13.2 26.6 13.2 25.6 Z" fill="#94a3b8" transform="translate(28.2 0) scale(-1 1)"/></svg>
<div class="t" style="left:126.7px;top:520.0px;font-size:25px;letter-spacing:0.33px;color:#94a3b8;">Fonti dati</div>
<svg class="b" style="left:71.3px;top:517.45px;overflow:visible;" width="25.4" height="28.2" viewBox="0 0 25.4 28.2" preserveAspectRatio="none"><g fill="#94a3b8"><path d="M0 5.6 C0 -1.87 25.4 -1.87 25.4 5.6 V9 C25.4 12.6 0 12.6 0 9 Z"/><path d="M0 10.3 C0 13.9 25.4 13.9 25.4 10.3 V17.7 C25.4 21.3 0 21.3 0 17.7 Z"/><path d="M0 19 C0 22.6 25.4 22.6 25.4 19 V24.6 C25.4 29.4 0 29.4 0 24.6 Z"/></g></svg>
<div class="t" style="left:127.4px;top:676.0px;font-size:25px;letter-spacing:0.58px;color:#94a3b8;">Conversazioni</div>
<svg class="b" style="left:65.75px;top:672.9px;overflow:visible;" width="35.5" height="28.8" viewBox="0 0 35.5 28.8" preserveAspectRatio="none"><g fill="#94a3b8"><ellipse cx="24.6" cy="18.6" rx="10.7" ry="9.8"/><path d="M33 23.4 L35.3 28.4 L28.5 27 Z"/></g><g fill="#94a3b8" stroke="#0f172a" stroke-width="2.6" paint-order="stroke"><ellipse cx="11.7" cy="9.9" rx="11.5" ry="9.9"/></g><path d="M2.4 14.8 L0.2 20.2 L7 18.8 Z" fill="#94a3b8"/><ellipse cx="11.7" cy="9.9" rx="11.5" ry="9.9" fill="#94a3b8"/></svg>
<div class="t" style="left:128.4px;top:752.0px;font-size:25px;letter-spacing:0.28px;color:#94a3b8;">Chat dal vivo</div>
<svg class="b" style="left:69.7px;top:748.9px;overflow:visible;" width="28.6" height="28.4" viewBox="0 0 28.6 28.4" preserveAspectRatio="none"><path d="M1.4 17.2 V14.4 A12.9 12.9 0 0 1 27.2 14.4 V21.4 A4 4 0 0 1 23.2 25.4 H14" fill="none" stroke="#94a3b8" stroke-width="2.8" stroke-linecap="round"/><g fill="#94a3b8"><rect x="4.4" y="10.9" width="6.1" height="10.3" rx="3"/><rect x="17.5" y="10.9" width="6.1" height="10.3" rx="3"/><rect x="10.1" y="23" width="6.4" height="5.4" rx="2.7"/></g></svg>
<div class="t" style="left:127.6px;top:827.9px;font-size:25px;letter-spacing:0.65px;color:#94a3b8;">Lead</div>
<svg class="b" style="left:65.75px;top:825.9px;overflow:visible;" width="35.5" height="27.6" viewBox="0 0 35.5 27.6" preserveAspectRatio="none"><g fill="#94a3b8"><circle cx="12.3" cy="6.9" r="6.9"/><path d="M1.2 27.4 a1.2 1.2 0 0 1 -1.2 -1.2 C0 20.5 4.5 16 10 16 H17.5 c1.2 0 2.1 0.9 2.1 2.1 V20.6 c0 0.6 0.2 1.1 0.6 1.5 L24.6 26.5 c0.4 0.4 0.1 0.9 -0.4 0.9 Z"/><path fill-rule="evenodd" d="M22.9 13.4 H28.2 c0.4 0 0.8 0.2 1.1 0.5 L35 19.5 a1.3 1.3 0 0 1 0 1.8 L29.6 26.8 a1.3 1.3 0 0 1 -1.8 0 L22 21 c-0.3 -0.3 -0.5 -0.7 -0.5 -1.1 V14.7 a1.3 1.3 0 0 1 1.4 -1.3 Z M24.7 15.7 a1.3 1.3 0 1 0 0.01 0 Z"/></g></svg>
<div class="t" style="left:127.4px;top:982.2px;font-size:25px;letter-spacing:0.34px;color:#94a3b8;">Report e utilizzo</div>
<svg class="b" style="left:69.9px;top:981.4px;overflow:visible;" width="28.4" height="24.8" viewBox="0 0 28.4 24.8" preserveAspectRatio="none"><g fill="none" stroke="#94a3b8" stroke-width="3.6" stroke-linecap="round" stroke-linejoin="round"><path d="M1.9 1.8 V19.4 a3.4 3.4 0 0 0 3.4 3.4 H26.5"/><path d="M7.1 14.3 L13.3 8.5 L17.7 12.5 L24.6 5.6"/></g></svg>
<div class="t" style="left:127.2px;top:1137.8px;font-size:25px;letter-spacing:0.50px;color:#94a3b8;">Incorpora widget</div>
<svg class="b" style="left:65.75px;top:1135.3px;overflow:visible;" width="35.5" height="28.5" viewBox="0 0 35.5 28.5" preserveAspectRatio="none"><g fill="none" stroke="#94a3b8" stroke-linecap="round" stroke-linejoin="round"><path d="M8.3 7.3 L2 13.7 L8.3 20 M27.2 7.3 L33.5 13.7 L27.2 20" stroke-width="3.8"/><path d="M21.4 1.8 L14.2 26.8" stroke-width="3.6"/></g></svg>
<div class="t" style="left:127.4px;top:1291.9px;font-size:25px;letter-spacing:0.40px;color:#94a3b8;">Canali</div>
<svg class="b" style="left:65.95px;top:1289.3px;overflow:visible;" width="35.1" height="28.5" viewBox="0 0 35.1 28.5" preserveAspectRatio="none"><g fill="none" stroke="#94a3b8" stroke-width="3.7" stroke-linejoin="round"><rect x="12.35" y="1.85" width="10.6" height="7.2" rx="1.3"/><rect x="3.65" y="19.55" width="10.4" height="7.1" rx="1.3"/><rect x="21.25" y="19.55" width="10.4" height="7.1" rx="1.3"/></g><path d="M1.8 13.9 H33.3" fill="none" stroke="#94a3b8" stroke-width="3.6" stroke-linecap="round"/><path d="M17.7 10 V13.5 M8.9 14 V18.5 M26.1 14 V18.5" fill="none" stroke="#94a3b8" stroke-width="3.2"/></svg>
<div class="t" style="left:127.2px;top:1368.0px;font-size:25px;letter-spacing:0.57px;color:#94a3b8;">Integrazioni</div>
<svg class="b" style="left:73.1px;top:1365.9px;overflow:visible;" width="21" height="27.4" viewBox="0 0 21 27.4" preserveAspectRatio="none"><g fill="#94a3b8"><rect x="3.2" y="0" width="3.7" height="8.6" rx="1.85"/><rect x="14" y="0" width="3.8" height="8.6" rx="1.9"/><path d="M0 8.1 H21 V10.9 H19.3 V12.6 A8.8 8.8 0 0 1 12.3 21.2 V27.4 H8.7 V21.2 A8.8 8.8 0 0 1 1.7 12.6 V10.9 H0 Z"/></g></svg>
<div class="t" style="left:127.2px;top:1444.0px;font-size:25px;letter-spacing:0.73px;color:#94a3b8;">Sincronizzazioni</div>
<svg class="b" style="left:70.9px;top:1443.3px;overflow:visible;" width="26.2" height="24.4" viewBox="0 0 26.2 24.4" preserveAspectRatio="none"><g fill="none" stroke="#94a3b8" stroke-width="3.8" stroke-linecap="round"><path d="M3.3 9.3 A10.2 10.2 0 0 1 20.8 5.5"/><path d="M22.9 15.1 A10.2 10.2 0 0 1 5.4 18.9"/></g><path d="M26.2 0.2 V10.5 H15.9 Z M0 24.2 V13.9 H10.3 Z" fill="#94a3b8"/></svg>
<div class="b" style="left:0px;top:1524px;width:576px;height:2px;background:#1a2438;"></div>
<div class="b" style="left:40.6px;top:1566.4px;width:495.1px;height:193px;border:2px solid #1d283c;border-radius:28px;background:#111a2d;"></div>
<div class="b" style="left:66px;top:1592px;width:64px;height:64px;border-radius:50%;background:linear-gradient(45deg,#3b82f6,#4f46e5);border:4px solid #334155;"></div>
<svg class="b" style="left:88px;top:1612px;" width="20" height="22" viewBox="0 0 20 22" preserveAspectRatio="none"><circle cx="10" cy="5.6" r="5.2" fill="#fff"/><path d="M1.5 21.5 V19 a6 6 0 0 1 6-6 h5 a6 6 0 0 1 6 6 v2.5z" fill="#fff"/></svg>
<div class="t" style="left:153.5px;top:1603.0px;font-size:21.5px;letter-spacing:0.07px;color:#fff;font-weight:700;transform:scaleX(0.95);transform-origin:0 0;">System Admin | @admin</div>
<div class="t" style="left:154.3px;top:1631.9px;font-size:17px;letter-spacing:-0.04px;color:#64748b;">ADMIN</div>
<div class="b" style="left:66px;top:1680px;width:444px;height:54px;border-radius:18px;background:#212d41;"></div>
<svg class="b" style="left:214.5px;top:1700px;" width="17.5" height="15.5" viewBox="0 0 18 16" preserveAspectRatio="none"><path d="M6.5 1.5 H4 a2.5 2.5 0 0 0 -2.5 2.5 v8 a2.5 2.5 0 0 0 2.5 2.5 h2.5" fill="none" stroke="#94a3b8" stroke-width="2.4" stroke-linecap="round"/><path d="M6 6.2 h5.5 V2.6 L17.5 8 l-6 5.4 V9.8 H6z" fill="#94a3b8"/></svg>
<div class="t" style="left:245.9px;top:1697.0px;font-size:20px;letter-spacing:0.69px;color:#94a3b8;font-weight:700;">Disconnetti</div>
<div class="b" style="left:544.3px;top:122.3px;width:64px;height:64px;border:4px solid #e2e8f0;border-radius:17px;background:#0f172a;"></div>
<svg class="b" style="left:564.2px;top:142px;" width="22" height="22" viewBox="0 0 22 22" preserveAspectRatio="none"><path d="M10.2 2.3 L2.4 11 L10.2 19.7 M19.8 2.3 L12 11 L19.8 19.7" fill="none" stroke="#64748b" stroke-width="2.6" stroke-linecap="round" stroke-linejoin="round"/></svg>
<div class="b" style="left:2784px;top:1110px;width:56px;height:56px;border-radius:50%;background:#fff;box-shadow:0 4px 14px rgba(15,23,42,.12);"></div>
<svg class="b" style="left:2803px;top:1129px;" width="18" height="18" viewBox="0 0 18 18" preserveAspectRatio="none"><path d="M2.5 2.5 L15.5 15.5 M15.5 2.5 L2.5 15.5" fill="none" stroke="#475569" stroke-width="2.2" stroke-linecap="round"/></svg>
<div class="b" style="left:2310px;top:1130px;width:450px;height:160px;border-radius:22px;background:#fff;box-shadow:0 10px 30px rgba(15,23,42,.12),0 2px 6px rgba(15,23,42,.05);"></div>
<svg class="b" style="left:2344px;top:1192px;overflow:visible;" width="38" height="38" viewBox="0 0 38 38" preserveAspectRatio="none"><g fill="none" stroke-linecap="round" stroke-linejoin="round">
<path d="M5.3 18.2 L13.5 25 M7.3 11.4 L16 21 M11.9 6 L19.5 18.5 M18.6 4.6 L25 18" stroke="#e39b12" stroke-width="3.5"/><path d="M31.5 12 C29.6 13.6 29.4 16 29.2 18.5 L29 24" stroke="#e39b12" stroke-width="4.1"/><path d="M9 23.5 L14 19.5 L18 17.5 L24 16 L27.5 17.5 L31.6 19.8 L31.6 25.7 L30 30.9 L25.7 34.4 L21.7 35.4 L17.8 34.2 L13.8 30.5 Z" fill="#e39b12" stroke="#e39b12" stroke-width="2.4"/>
<path d="M9 23.5 L14 19.5 L18 17.5 L24 16 L27.5 17.5 L31.6 19.8 L31.6 25.7 L30 30.9 L25.7 34.4 L21.7 35.4 L17.8 34.2 L13.8 30.5 Z" fill="#ffca28" stroke="#ffca28" stroke-width="1.5"/><path d="M5.3 18.2 L13.5 25 M7.3 11.4 L16 21 M11.9 6 L19.5 18.5 M18.6 4.6 L25 18" stroke="#ffca28" stroke-width="2.6"/><path d="M31.5 12 C29.6 13.6 29.4 16 29.2 18.5 L29 24" stroke="#ffca28" stroke-width="3.2"/>
<path d="M26.3 18.2 C23 20 21.3 24 22.4 27.4 C22.8 28.6 23.4 29.4 23.9 29.9" stroke="#e8a317" stroke-width="0.9"/>
<path d="M22.5 3.9 Q25.9 6.4 27.3 10.2 M24.3 2.3 Q27.9 4.8 29.1 8.3 M3.5 22.5 Q4.4 26.3 8.2 28.7 M1.7 24.5 Q2.8 28.4 6.4 30.7" stroke="#9fb0bb" stroke-width="1"/></g></svg>
<div class="t" style="left:2396.9px;top:1194.1px;font-size:33.5px;letter-spacing:0.39px;color:#1e293b;">Hi! How can we help?</div>
<div class="b" style="left:2480.5px;top:1322px;width:359.4px;height:81.6px;border:4px solid #10b981;border-radius:26px;background:#fff;"></div>
<div class="t" style="left:2514.5px;top:1348.8px;font-size:31px;letter-spacing:0.29px;color:#10b981;-webkit-text-stroke:0.5px #10b981;transform:scaleX(0.965);transform-origin:0 0;">How do I get started?</div>
<div class="b" style="left:2530px;top:1420px;width:309.9px;height:81.6px;border:4px solid #10b981;border-radius:26px;background:#fff;"></div>
<div class="t" style="left:2566.5px;top:1446.8px;font-size:31px;letter-spacing:-0.20px;color:#10b981;-webkit-text-stroke:0.5px #10b981;transform:scaleX(0.965);transform-origin:0 0;">What can you do?</div>
<div class="b" style="left:2404.3px;top:1517.6px;width:435.6px;height:81.6px;border:4px solid #10b981;border-radius:26px;background:#fff;"></div>
<div class="t" style="left:2440.2px;top:1544.6px;font-size:31px;letter-spacing:0.09px;color:#10b981;-webkit-text-stroke:0.5px #10b981;transform:scaleX(0.965);transform-origin:0 0;">Tell me about your features</div>
<div class="b" style="left:2720px;top:1640px;width:120px;height:120px;border-radius:50%;background:#007c80;box-shadow:0 10px 30px rgba(15,23,42,.18),0 2px 6px rgba(15,23,42,.08);"></div>
<svg class="b" style="left:2755.1px;top:1675px;overflow:visible;" width="50" height="50.4" viewBox="0 0 50 50.4" preserveAspectRatio="none"><path d="M2.5 47.7 V7.5 a5 5 0 0 1 5 -5 H42.5 a5 5 0 0 1 5 5 V32.6 a5 5 0 0 1 -5 5 H12.6 Z" fill="none" stroke="#fff" stroke-width="5" stroke-linejoin="round" stroke-linecap="round"/></svg>
<div class="b" style="left:2797.2px;top:1624.9px;width:58px;height:58px;border-radius:50%;background:rgba(239,68,68,.5);"></div>
<div class="b" style="left:2802.7px;top:1630.4px;width:47px;height:47px;border-radius:50%;background:#ef4444;border:5px solid #fff;"></div>
<svg class="b" style="left:2821.5px;top:1643.7px;" width="10" height="18.2" viewBox="0 0 10 18.2" preserveAspectRatio="none"><path d="M9.8 0 V18.2 H5.6 V5 L0.3 8.2 V4.1 L6.6 0 Z" fill="#fff"/></svg>
</body></html>
